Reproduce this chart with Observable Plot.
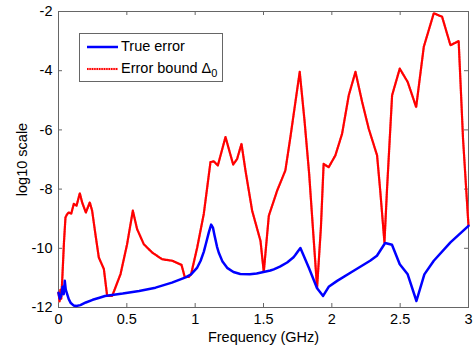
<!DOCTYPE html>
<html><head><meta charset="utf-8">
<script src="https://cdn.jsdelivr.net/npm/d3@7"></script>
<script src="https://cdn.jsdelivr.net/npm/@observablehq/plot@0.6"></script>
<style>
body{margin:0;background:#fff;}
#wrap{position:relative;width:476px;height:345px;font-family:"Liberation Sans",Arial,sans-serif;}
#legend{position:absolute;left:79px;top:33px;width:142px;height:47px;border:1px solid #666;background:#fff;font-size:14.5px;color:#000;}
.row{position:absolute;left:0;height:20px;width:140px;}
.sw{position:absolute;left:7px;width:31px;top:8px;height:4px;overflow:visible;}
.lab{position:absolute;left:41px;top:1px;white-space:nowrap;line-height:16px;}
sub{font-size:11px;vertical-align:-4px;line-height:0;}
</style></head><body><div id="wrap"></div>
<script>
const xTicks = [0, 0.5, 1, 1.5, 2, 2.5, 3];
const yTicks = [-12, -10, -8, -6, -4, -2];
const seriesNames = ["True error", "Error bound"];

const trueFreq = [0,0.01,0.02,0.03,0.038,0.046,0.053,0.06,0.075,0.09,0.11,0.13,0.16,0.2,0.25,0.3,0.34,0.47,0.59,0.71,0.83,0.93,0.97,1.015,1.04,1.063,1.08,1.10,1.117,1.13,1.141,1.16,1.173,1.2,1.234,1.28,1.33,1.40,1.45,1.50,1.55,1.575,1.62,1.673,1.72,1.734,1.755,1.77,1.831,1.892,1.936,1.977,2.039,2.16,2.28,2.33,2.39,2.44,2.497,2.555,2.619,2.677,2.746,2.868,3.0];
const trueErr = [-11.5,-11.7,-11.6,-11.3,-11.55,-11.1,-11.4,-11.5,-11.72,-11.85,-11.93,-11.95,-11.92,-11.83,-11.74,-11.67,-11.61,-11.53,-11.44,-11.33,-11.16,-10.98,-10.88,-10.65,-10.42,-10.12,-9.82,-9.46,-9.2,-9.3,-9.55,-9.95,-10.15,-10.45,-10.66,-10.8,-10.87,-10.88,-10.85,-10.8,-10.75,-10.71,-10.62,-10.48,-10.3,-10.22,-10.08,-9.99,-10.65,-11.35,-11.61,-11.3,-11.1,-10.76,-10.42,-10.25,-9.82,-9.88,-10.54,-10.88,-11.78,-10.88,-10.42,-9.8,-9.24];

const boundFreq = [0,0.008,0.014,0.02,0.027,0.04,0.051,0.063,0.075,0.093,0.112,0.132,0.156,0.173,0.2,0.229,0.246,0.27,0.295,0.332,0.356,0.393,0.454,0.502,0.544,0.575,0.624,0.685,0.758,0.832,0.9,0.924,0.953,0.97,1.015,1.063,1.112,1.136,1.166,1.222,1.278,1.307,1.339,1.368,1.417,1.478,1.502,1.539,1.60,1.66,1.697,1.765,1.80,1.834,1.868,1.892,1.92,1.94,1.977,2.026,2.075,2.124,2.173,2.222,2.27,2.331,2.355,2.385,2.404,2.441,2.497,2.555,2.617,2.673,2.746,2.807,2.868,2.928,2.96,3.0];
const boundErr = [-11.5,-11.8,-11.4,-11.7,-11.1,-9.8,-8.96,-8.85,-8.79,-8.83,-8.5,-8.56,-8.14,-8.45,-8.79,-8.45,-8.73,-9.52,-10.31,-10.7,-11.61,-11.61,-10.87,-9.86,-8.73,-9.35,-9.86,-10.14,-10.37,-10.42,-10.56,-10.97,-10.97,-10.88,-9.97,-8.84,-7.09,-7.06,-7.2,-6.24,-7.17,-6.98,-6.47,-7.37,-8.73,-9.75,-10.8,-8.9,-8.05,-7.37,-6.24,-4.04,-5.68,-7.48,-9.75,-11.33,-9.3,-7.15,-7.26,-6.86,-6.13,-4.83,-4.04,-5.06,-5.96,-6.86,-8.1,-9.8,-7.99,-4.83,-3.93,-4.38,-5.23,-3.19,-2.06,-2.18,-3.14,-3.0,-6.3,-9.24];

const trueData = trueFreq.map((f, i) => ({f, v: trueErr[i]}));
const boundData = boundFreq.map((f, i) => ({f, v: boundErr[i]}));

const W = 476, H = 345, mL = 58, mR = 8, mT = 11, mB = 38;
const pw = W - mL - mR, ph = H - mT - mB, tk = 4;
const axisCol = "#666";
const fmt = d => String(d);

const chart = Plot.plot({
  width: W, height: H,
  marginLeft: mL, marginRight: mR, marginTop: mT, marginBottom: mB,
  style: {fontFamily: '"Liberation Sans", Arial, sans-serif', fontSize: "14.5px", background: "#fff", color: "#000"},
  x: {domain: [0, 3]},
  y: {domain: [-12, -2]},
  marks: [
    Plot.frame({stroke: axisCol}),
    Plot.tickX(xTicks, {x: d => d, insetTop: ph - tk, stroke: axisCol}),
    Plot.tickX(xTicks, {x: d => d, insetBottom: ph - tk, stroke: axisCol}),
    Plot.tickY(yTicks, {y: d => d, insetRight: pw - tk, stroke: axisCol}),
    Plot.tickY(yTicks, {y: d => d, insetLeft: pw - tk, stroke: axisCol}),
    Plot.axisX(xTicks, {tickSize: 0, tickPadding: 6, tickFormat: fmt, label: "Frequency (GHz)", labelAnchor: "center", labelArrow: "none", labelOffset: 34}),
    Plot.axisY(yTicks, {tickSize: 0, tickPadding: 6, tickFormat: fmt, label: "log10 scale", labelAnchor: "center", labelArrow: "none", labelOffset: 42}),
    Plot.line(boundData, {x: "f", y: "v", stroke: "#ff9a9a", strokeWidth: 2.2, strokeLinejoin: "round"}),
    Plot.line(boundData, {x: "f", y: "v", stroke: "#ff0000", strokeWidth: 2.2, strokeDasharray: "1.4,1", strokeLinejoin: "round"}),
    Plot.line(trueData, {x: "f", y: "v", stroke: "#0000ff", strokeWidth: 2.5, strokeLinejoin: "round"})
  ]
});

const wrap = document.getElementById("wrap");
wrap.appendChild(chart);
const leg = document.createElement("div");
leg.id = "legend";
leg.innerHTML =
  `<div class="row" style="top:3px"><svg class="sw" width="31" height="4"><line x1="0" x2="31" y1="2" y2="2" stroke="#0000ff" stroke-width="2.5"/></svg><span class="lab">${seriesNames[0]}</span></div>` +
  `<div class="row" style="top:25px"><svg class="sw" width="31" height="4"><line x1="0" x2="31" y1="2" y2="2" stroke="#ff9a9a" stroke-width="2.2"/><line x1="0" x2="31" y1="2" y2="2" stroke="#ff0000" stroke-width="2.2" stroke-dasharray="1.4,1"/></svg><span class="lab">${seriesNames[1]} Δ<sub>0</sub></span></div>`;
wrap.appendChild(leg);
</script>
</body></html>
